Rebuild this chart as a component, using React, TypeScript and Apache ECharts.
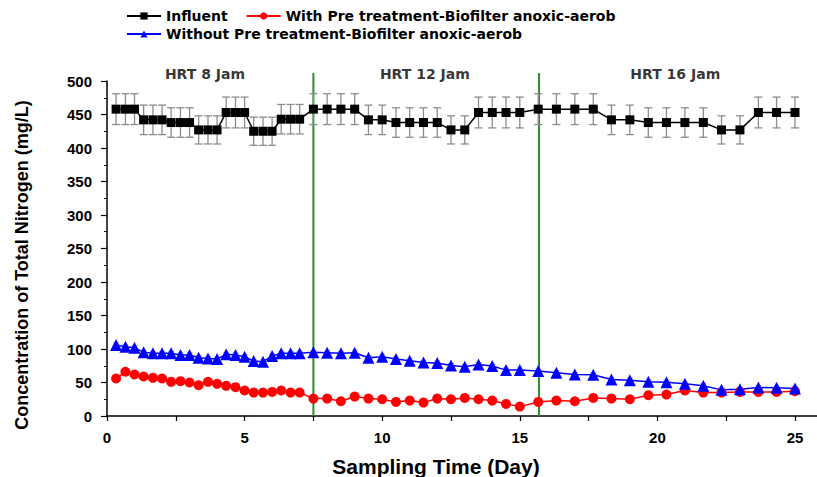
import React, { useEffect, useRef } from "react";
import * as echarts from "echarts";

// Sampling days for each HRT phase (8 h, 12 h and 16 h intervals)
const days8 = [0.33, 0.67, 1, 1.33, 1.67, 2, 2.33, 2.67, 3, 3.33, 3.67, 4, 4.33, 4.67, 5, 5.33, 5.67, 6, 6.33, 6.67, 7];
const days12 = [7.5, 8, 8.5, 9, 9.5, 10, 10.5, 11, 11.5, 12, 12.5, 13, 13.5, 14, 14.5, 15];
const days16 = [15.67, 16.33, 17, 17.67, 18.33, 19, 19.67, 20.33, 21, 21.67, 22.33, 23, 23.67, 24.33, 25];
const days = [...days8, ...days12, ...days16];

// Total nitrogen (mg/L)
const influent = [
  458, 458, 458, 442, 442, 442, 438, 438, 438, 427, 427, 427, 453, 453, 453, 425, 425, 425, 443, 443, 443,
  458, 458, 458, 458, 442, 442, 438, 438, 438, 438, 427, 427, 453, 453, 453, 453,
  458, 458, 458, 458, 442, 442, 438, 438, 438, 438, 427, 427, 453, 453, 453,
];
const influentErr = [
  23, 23, 23, 22, 22, 22, 22, 22, 22, 21, 21, 21, 23, 23, 23, 21, 21, 21, 22, 22, 22,
  23, 23, 23, 23, 22, 22, 22, 22, 22, 22, 21, 21, 23, 23, 23, 23,
  23, 23, 23, 23, 22, 22, 22, 22, 22, 22, 21, 21, 23, 23, 23,
];
const withPre = [
  56, 66, 62, 59, 57, 56, 51, 52, 50, 46, 51, 48, 45, 43, 38, 35, 35, 36, 38, 35, 35,
  26, 26, 22, 29, 26, 25, 21, 23, 20, 26, 25, 27, 25, 23, 18, 14,
  21, 23, 22, 27, 26, 25, 31, 32, 38, 35, 35, 36, 36, 36, 37,
];
const withoutPre = [
  106, 103.5, 102, 95, 93.5, 93.5, 93.5, 91, 91, 87, 86, 85, 92, 91, 88.5, 82, 81, 89.5, 93.5, 93.5, 93.5,
  95, 94.5, 93.5, 94.5, 87, 88.5, 85, 82.5, 80, 79, 75.5, 73.5, 77, 74.5, 68.5, 68.5,
  67, 64.5, 62, 61.5, 54.5, 53.5, 51, 50.5, 48, 45, 39, 40, 42.5, 42, 41,
];
const withoutPreErr = [
  3, 3, 3, 3, 3, 3, 3, 3, 3, 3, 3, 3, 3, 3, 3, 3, 3, 3, 3, 3, 3,
  3, 3, 3, 3, 3, 3, 3, 3, 3, 3, 3, 3, 3, 3, 3, 3,
  3, 3, 3, 3, 3, 3, 3, 3, 3, 3, 3, 3, 3, 3, 3,
];

// Phase boundaries and phase titles
const phaseBounds = [7.5, 15.7];
const phaseLabels = [
  { name: "HRT 8 Jam", x: 3.56, y: 510 },
  { name: "HRT 12 Jam", x: 11.55, y: 510 },
  { name: "HRT 16 Jam", x: 20.65, y: 510 },
];

const xTicks = [0, 2.5, 5, 7.5, 10, 12.5, 15, 17.5, 20, 22.5, 25];
const xLabels = [0, 5, 10, 15, 20, 25];

const FONT = 'Arial, "Liberation Sans", sans-serif';
const WIDE = '"DejaVu Sans", Verdana, sans-serif';

function errorBars(values: number[], errs: number[], color: string, cap: number, width: number) {
  return {
    type: "custom",
    silent: true,
    z: 1,
    clip: false,
    data: values.map((v, i) => [days[i], v - errs[i], v + errs[i]]),
    renderItem: (params: any, api: any) => {
      const lo = api.coord([api.value(0), api.value(1)]);
      const hi = api.coord([api.value(0), api.value(2)]);
      const style = { stroke: color, lineWidth: width };
      return {
        type: "group",
        children: [
          { type: "line", shape: { x1: lo[0], y1: lo[1], x2: hi[0], y2: hi[1] }, style },
          { type: "line", shape: { x1: lo[0] - cap, y1: lo[1], x2: lo[0] + cap, y2: lo[1] }, style },
          { type: "line", shape: { x1: hi[0] - cap, y1: hi[1], x2: hi[0] + cap, y2: hi[1] }, style },
        ],
      };
    },
  };
}

export default function App() {
  const ref = useRef<HTMLDivElement>(null);

  useEffect(() => {
    if (!ref.current) return;
    const chart = echarts.init(ref.current, null, { renderer: "svg" });
    const pairs = (vals: number[]) => vals.map((v, i) => [days[i], v]);

    chart.setOption({
      animation: false,
      textStyle: { fontFamily: FONT },
      grid: { left: 107, top: 81, right: 0, bottom: 61, outerBoundsMode: "none" },
      legend: {
        data: [
          "Influent",
          "With Pre treatment-Biofilter anoxic-aerob",
          "Without Pre treatment-Biofilter anoxic-aerob",
        ],
        left: 126,
        top: 8,
        width: 540,
        itemWidth: 34,
        itemHeight: 9,
        itemGap: 2,
        padding: 0,
        textStyle: {
          fontFamily: WIDE,
          fontWeight: "bold",
          fontSize: 14,
          lineHeight: 16,
          color: "#000",
          padding: [0, 16, 0, 0],
        },
      },
      graphic: [
        {
          type: "text",
          x: 22,
          y: 265,
          rotation: Math.PI / 2,
          silent: true,
          style: {
            text: "Concentration of Total Nitrogen (mg/L)",
            font: `bold 18px ${FONT}`,
            fill: "#000",
            align: "center",
            verticalAlign: "middle",
          },
        },
      ],
      xAxis: {
        type: "value",
        min: 0,
        max: 25.8,
        name: "Sampling Time (Day)",
        nameLocation: "middle",
        nameGap: 40,
        nameTextStyle: { fontFamily: FONT, fontWeight: "bold", fontSize: 21, color: "#000", padding: [0, 52, 0, 0] },
        axisLine: { show: true, onZero: false, lineStyle: { color: "#000", width: 1.5 } },
        axisTick: { show: true, customValues: xTicks, length: 5, lineStyle: { color: "#000", width: 1.2 } },
        axisLabel: { customValues: xLabels, fontFamily: FONT, fontWeight: "bold", fontSize: 15, color: "#000", margin: 14 },
        splitLine: { show: false },
      },
      yAxis: {
        type: "value",
        min: 0,
        max: 500,
        interval: 50,
        axisLine: { show: true, lineStyle: { color: "#000", width: 1.5 } },
        axisTick: { show: true, length: 6, lineStyle: { color: "#000", width: 1.2 } },
        minorTick: { show: true, splitNumber: 2, length: 3, lineStyle: { color: "#000", width: 1 } },
        axisLabel: { fontFamily: FONT, fontWeight: "bold", fontSize: 15, color: "#000", margin: 15 },
        splitLine: { show: false },
      },
      series: [
        errorBars(influent, influentErr, "#8c8c8c", 4, 1.3),
        errorBars(withoutPre, withoutPreErr, "#9a9aff", 3, 1),
        ...phaseBounds.map((b) => ({
          type: "line",
          name: "phase-" + b,
          silent: true,
          clip: false,
          symbol: "none",
          z: 0,
          lineStyle: { color: "#2f8a2f", width: 2 },
          data: [[b, 0], [b, 512]],
        })),
        {
          type: "line",
          name: "Influent",
          data: pairs(influent),
          symbol: "rect",
          symbolSize: 9,
          itemStyle: { color: "#000" },
          lineStyle: { color: "#000", width: 1.5 },
          z: 3,
        },
        {
          type: "line",
          name: "With Pre treatment-Biofilter anoxic-aerob",
          data: pairs(withPre),
          symbol: "circle",
          symbolSize: 10,
          itemStyle: { color: "#ff0000" },
          lineStyle: { color: "#ff0000", width: 1.5 },
          z: 3,
        },
        {
          type: "line",
          name: "Without Pre treatment-Biofilter anoxic-aerob",
          data: pairs(withoutPre),
          symbol: "triangle",
          symbolSize: 12,
          itemStyle: { color: "#0000ff" },
          lineStyle: { color: "#0000ff", width: 1.5 },
          z: 3,
        },
        {
          type: "scatter",
          name: "phases",
          silent: true,
          clip: false,
          symbolSize: 0,
          data: phaseLabels.map((p) => ({ name: p.name, value: [p.x, p.y] })),
          label: {
            show: true,
            position: "inside",
            formatter: "{b}",
            fontFamily: WIDE,
            fontWeight: "bold",
            fontSize: 14,
            color: "#000",
          },
        },
      ],
    });

    return () => chart.dispose();
  }, []);

  return (
    <div
      ref={ref}
      style={{ position: "fixed", left: 0, top: 0, width: 817, height: 477, background: "#fff" }}
    />
  );
}
